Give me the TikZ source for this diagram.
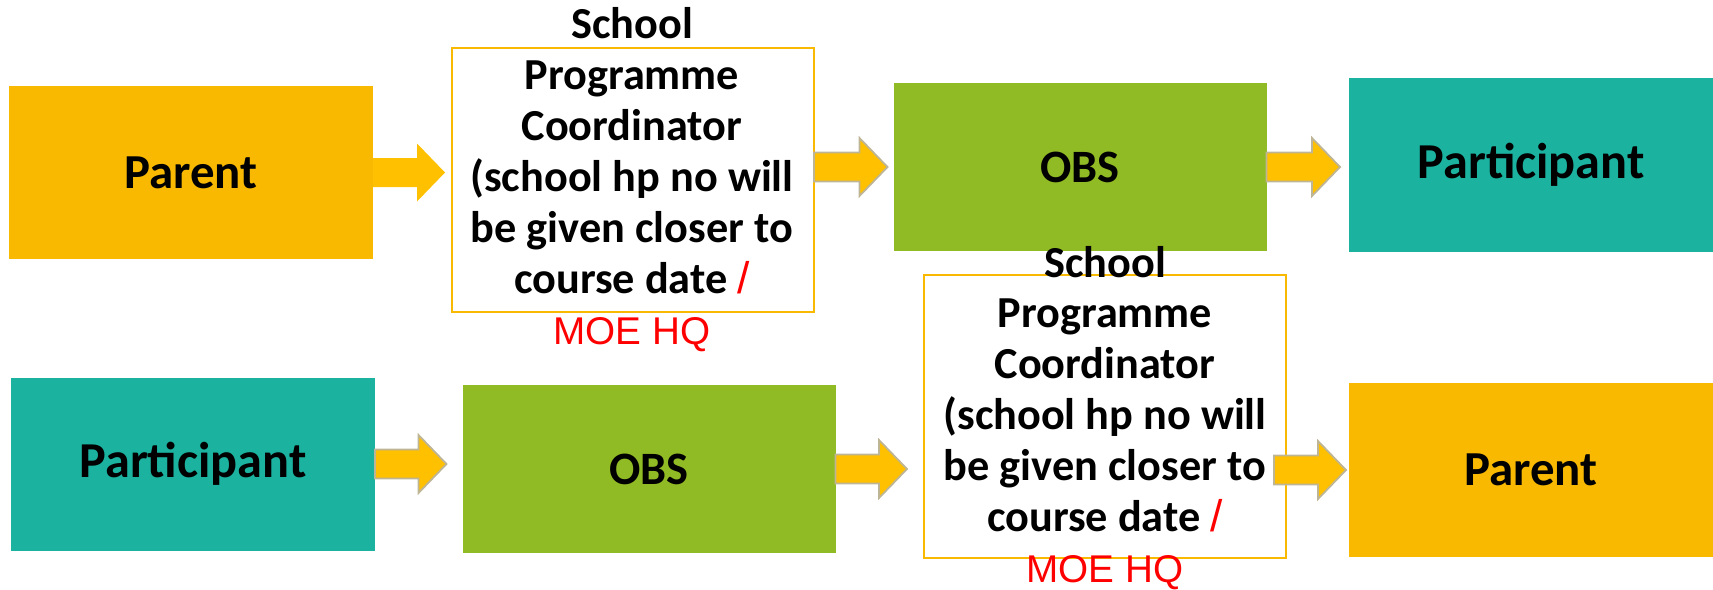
\documentclass[tikz,border=0pt]{standalone}
\usepackage{fontspec}
\setmainfont{Carlito}
\newfontfamily\moefont{Liberation Sans}
\usetikzlibrary{calc}

\definecolor{parentyellow}{RGB}{249,185,0}
\definecolor{obsgreen}{RGB}{145,187,36}
\definecolor{partteal}{RGB}{27,178,159}
\definecolor{arrowyellow}{RGB}{255,192,0}
\definecolor{arrowedge}{RGB}{190,180,150}
\definecolor{moered}{RGB}{255,0,0}

\tikzset{
  flowbox/.style = {inner sep=0pt, outer sep=0pt, text=black},
  parentbox/.style = {flowbox, fill=parentyellow, minimum width=3.64cm, minimum height=1.72cm,
    font=\fontsize{13.9}{16}\selectfont\bfseries},
  obsbox/.style = {flowbox, fill=obsgreen, minimum width=3.73cm, minimum height=1.68cm,
    font=\fontsize{13.2}{15}\selectfont\bfseries},
  partbox/.style = {flowbox, fill=partteal, minimum width=3.64cm, minimum height=1.73cm,
    font=\fontsize{14.3}{17}\selectfont\bfseries},
  spcbox/.style = {flowbox, draw=parentyellow, line width=0.6pt,
    minimum width=3.62cm},
  spctext/.style = {inner sep=0pt, align=center, font=\fontsize{12.6}{14.5}\selectfont\bfseries},
  blockarrow/.style = {
    fill=arrowyellow, draw=arrowedge, line width=0.5pt,
    to path = {
      let \p1 = (\tikztostart), \p2 = (\tikztotarget) in
      (\x1,\y1+0.145cm) -- (\x2-0.28cm,\y1+0.145cm) -- (\x2-0.28cm,\y1+0.29cm)
      -- (\x2,\y1) -- (\x2-0.28cm,\y1-0.29cm) -- (\x2-0.28cm,\y1-0.145cm)
      -- (\x1,\y1-0.145cm) -- cycle
    }
  }
}

\newcommand{\spclines}{School\\Programme\\Coordinator\\(school hp no will\\be given closer to\\course date {\moefont\mdseries\color{moered}/}\\{\moefont\mdseries\fontsize{11}{14.5}\selectfont\color{moered}MOE HQ}}

\begin{document}
\begin{tikzpicture}

  \useasboundingbox (0,0) rectangle (17.13,-5.89);

  %% Top row

  % Boxes
  \node[parentbox] (parent1) at (1.91,-1.725) {Parent};
  \node[spcbox, minimum height=2.64cm] (spc1) at (6.33,-1.80) {};
  \node[spctext] (spc1txt) at (6.32,-1.80) {\spclines};
  \node[obsbox] (obs1) at (10.80,-1.67) {OBS};
  \node[partbox] (part1) at (15.31,-1.65) {Participant};

  % Arrows
  \path[blockarrow, draw=none] (parent1.east) to ([xshift=-0.07cm]spc1.west);
  \draw[blockarrow] (spc1.east |- obs1.west) to ([xshift=-0.06cm]obs1.west);
  \draw[blockarrow] (obs1.east) to ([xshift=-0.09cm]part1.west);

  %% Bottom row

  % Boxes
  \node[partbox] (part2) at (1.93,-4.64) {Participant};
  \node[obsbox] (obs2) at (6.49,-4.69) {OBS};
  \node[spcbox, minimum height=2.83cm] (spc2) at (11.05,-4.165) {};
  \node[spctext] (spc2txt) at (11.05,-4.18) {\spclines};
  \node[parentbox, minimum height=1.74cm] (parent2) at (15.31,-4.70) {Parent};

  % Arrows
  \draw[blockarrow] (part2.east) to ([xshift=-0.16cm]obs2.west);
  \draw[blockarrow] (obs2.east) to ([xshift=-0.17cm]spc2.west);
  \draw[blockarrow] ([xshift=-0.12cm]spc2.east |- parent2.west) to ([xshift=-0.03cm]parent2.west);

\end{tikzpicture}
\end{document}
